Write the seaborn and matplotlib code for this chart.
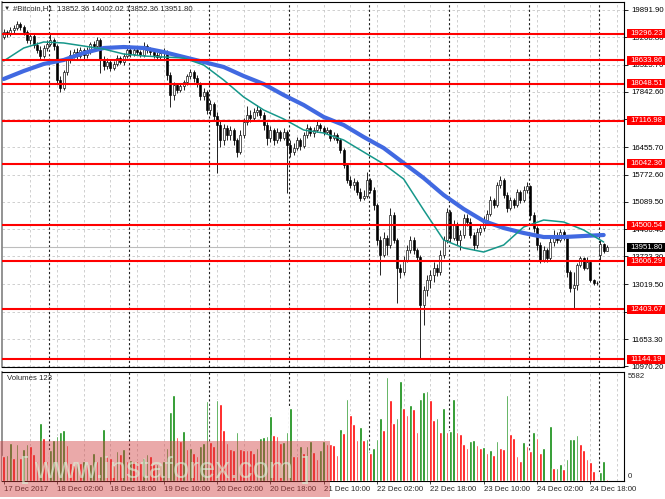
import numpy as np
import pandas as pd
import matplotlib
matplotlib.use("Agg")
import matplotlib.pyplot as plt
import matplotlib.transforms as mtransforms
from matplotlib.patches import Rectangle
import seaborn as sns

# Bitcoin H1 bars, one per hour starting 17 Dec 2017 10:00
first_open = 19216
closes = [
    19341, 19291, 19391, 19441, 19541, 19466, 19341, 19140, 19241, 19015,
    18890, 18740, 18940, 19040, 19140, 18990, 18139, 17938, 18339, 18640,
    18765, 18840, 18740, 18890, 18765, 18840, 19040, 18990, 19140, 18640,
    18489, 18589, 18439, 18539, 18690, 18589, 18740, 18890, 18790, 18890,
    18840, 18765, 18990, 18890, 18840, 18765, 18715, 18815, 18840, 18264,
    17763, 18014, 17888, 17989, 18089, 18239, 18339, 18189, 18039, 17738,
    17838, 17388, 17538, 17237, 17012, 16636, 16937, 16762, 16887, 16636,
    16336, 16762, 17087, 17262, 17187, 17338, 17388, 17262, 17012, 16686,
    16887, 16636, 16837, 16686, 16837, 16511, 16336, 16436, 16636, 16486,
    16762, 16937, 16812, 16887, 17012, 16937, 16837, 16887, 16686, 16762,
    16636, 16386, 16010, 15635, 15509, 15585, 15334, 15184, 15234, 15635,
    15384, 15009, 14132, 13757, 14182, 14007, 14758, 14132, 13431, 13331,
    13632, 13882, 14132, 13882, 13707, 12505, 12880, 13131, 13256, 13431,
    13331, 13757, 14132, 14833, 14182, 14508, 14132, 14258, 14683, 14583,
    14258, 14007, 14333, 14433, 14633, 14783, 15134, 15009, 15509, 15635,
    15259, 14934, 15134, 15009, 15334, 15134, 15384, 15484, 14758, 14433,
    14007, 13632, 13882, 13682, 14082, 14258, 14132, 14333, 14182, 13331,
    12930, 13005, 13506, 13682, 13431, 13581, 13131, 13056, 13056, 14032,
    13852.36, 13951.80,
]
highs = [
    19416, 19391, 19466, 19516, 19616, 19591, 19516, 19391, 19316, 19291,
    19090, 18990, 19015, 19140, 19316, 19190, 19040, 18239, 18389, 18715,
    18890, 18915, 18940, 18965, 18940, 18965, 19090, 19115, 19216, 19190,
    18740, 18690, 18640, 18615, 18765, 18740, 18815, 18990, 18940, 18940,
    18940, 18890, 19090, 19040, 18965, 18890, 18840, 18890, 18940, 18890,
    18339, 18089, 18064, 18039, 18139, 18289, 18414, 18389, 18264, 18089,
    17938, 17888, 17638, 17588, 17338, 17137, 17037, 17012, 16987, 16937,
    16686, 16887, 17187, 17488, 17388, 17438, 17513, 17438, 17338, 17087,
    16987, 16937, 16937, 16887, 16937, 16887, 16636, 16561, 16712, 16686,
    16837, 17037, 16987, 16962, 17137, 17062, 16987, 16962, 16912, 16837,
    16812, 16686, 16436, 16060, 15735, 15685, 15635, 15434, 15384, 15835,
    15685, 15459, 15059, 14233, 14333, 14258, 14934, 14833, 14182, 13531,
    13732, 14007, 14233, 14207, 13932, 13757, 12980, 13256, 13381, 13581,
    13531, 13882, 14233, 14934, 14884, 14633, 14583, 14383, 14783, 14783,
    14683, 14333, 14433, 14533, 14733, 14884, 15234, 15184, 15585, 15735,
    15685, 15334, 15209, 15184, 15409, 15384, 15484, 15585, 15509, 14833,
    14483, 14082, 13982, 13932, 14182, 14383, 14333, 14408, 14383, 14233,
    13381, 13331, 13556, 13732, 13707, 13707, 13632, 13156, 13106, 14132,
    14057, 14002.02,
]
lows = [
    19165, 19216, 19241, 19316, 19391, 19391, 19266, 19065, 19040, 18940,
    18815, 18665, 18690, 18865, 18990, 18890, 18039, 17838, 17888, 18264,
    18564, 18690, 18665, 18690, 18665, 18690, 18790, 18890, 18940, 18314,
    18389, 18414, 18364, 18389, 18489, 18539, 18514, 18690, 18715, 18740,
    18765, 18715, 18715, 18815, 18765, 18690, 18640, 18665, 18640, 18139,
    17463, 17638, 17813, 17838, 17888, 18014, 18164, 18089, 17963, 17638,
    17638, 17287, 17262, 17137, 15810, 16461, 16511, 16636, 16636, 16511,
    16211, 16286, 16686, 17012, 17087, 17137, 17237, 17187, 16887, 16511,
    16586, 16511, 16561, 16611, 16636, 15309, 16211, 16261, 16386, 16386,
    16436, 16686, 16737, 16712, 16837, 16862, 16762, 16787, 16611, 16636,
    16561, 16311, 15935, 15559, 15434, 15384, 15259, 15109, 15134, 15184,
    15309, 14884, 14007, 13256, 13707, 13757, 13932, 14057, 12555, 13181,
    13256, 13581, 13807, 13782, 13632, 11144.19, 12004, 12730, 12930, 13081,
    13231, 13256, 13682, 14057, 14082, 14132, 14007, 13882, 14182, 14483,
    14182, 13882, 13932, 14258, 14358, 14558, 14733, 14934, 14959, 15434,
    15184, 14833, 14884, 14934, 14959, 15059, 15084, 15309, 14633, 14333,
    13882, 13556, 13581, 13581, 13632, 13982, 14057, 14082, 14132, 13206,
    12830, 12410, 12880, 13456, 13381, 13406, 13081, 13005, 13005, 13632,
    13807, 13852.36,
]
# bars whose open differs from the previous close
gap_opens = {179: 13757}

volumes = [
    1340, 1380, 2060, 1220, 1970, 1250, 1700, 1970, 1880, 1430,
    1070, 3130, 2290, 1070, 1650, 2200, 2420, 2650, 2720, 1930,
    980, 860, 980, 970, 1070, 890, 900, 1520, 1070, 1340,
    2770, 1340, 1250, 860, 1610, 1430, 1700, 1070, 1110, 1100,
    1070, 980, 1220, 1430, 1340, 890, 900, 880, 1070, 1760,
    3720, 4600, 2360, 2150, 2690, 1700, 1760, 1520, 1340, 1880,
    2060, 4300, 2100, 1880, 4330, 4150, 2720, 2060, 1700, 1690,
    2650, 1700, 1690, 1680, 1670, 1520, 1790, 2290, 2360, 2400,
    3490, 2470, 2420, 2060, 2100, 2650, 3940, 1340, 1330, 1880,
    1520, 1880, 2150, 1580, 1160, 1650, 2150, 1970, 1960,
    1950, 1420, 2770, 2600, 4390, 3550, 3040, 2190, 2900, 2190,
    2240, 1520, 1790, 2240, 3370, 2720, 5582, 4330, 3130, 3400,
    5370, 3940, 3550, 4080, 3850, 2650, 4390, 4780, 4840, 4330,
    3260, 3400, 2650, 3900, 2630, 2660, 4390, 2630, 2510, 1970,
    1760, 2150, 2190, 1930, 1790, 1800, 1520, 1650, 1400, 2150,
    1760, 1700, 4620, 2510, 2290, 1360, 1060, 2100, 1860, 1590,
    2630, 2290, 1520, 1760, 30, 2970, 690, 720, 900, 630,
    1180, 2240, 2250, 2470, 2000, 1650, 1170, 1040, 540, 20,
    470, 1100, 123,
]

# moving averages
ma_step = 6
ma_fast = [
    18615, 18940, 19091, 19066, 18990, 18915, 18790, 18740, 18715, 18690,
    18515, 18139, 17713, 17388, 17163, 16887, 16812, 16637, 16336, 16036,
    15660, 14884, 14132, 13932, 13832, 14007, 14458, 14633, 14583, 14383,
    14082,
]
ma_slow = [
    18164, 18364, 18540, 18640, 18815, 18940, 18965, 18940, 18840, 18715,
    18590, 18465, 18239, 18039, 17763, 17513, 17213, 17012, 16712, 16436,
    16060, 15685, 15259, 14909, 14608, 14433, 14308, 14207, 14207, 14233,
    14258,
]

levels = [19296.23, 18633.86, 18048.51, 17116.98, 16042.36,
          14500.54, 13606.29, 12403.67, 11144.19]
price_ticks = [19891.90, 19208.80, 18525.70, 17842.60, 17159.50, 16455.70,
               15772.60, 15089.50, 14406.40, 13723.30, 13019.50, 12336.40,
               11653.30, 10970.20]
time_labels = ["17 Dec 2017", "18 Dec 02:00", "18 Dec 18:00", "19 Dec 10:00",
               "20 Dec 02:00", "20 Dec 18:00", "21 Dec 10:00", "22 Dec 02:00",
               "22 Dec 18:00", "23 Dec 10:00", "24 Dec 02:00", "24 Dec 18:00"]
time_label_bars = [0, 16, 32, 48, 64, 80, 96, 112, 128, 144, 160, 176]
day_breaks = [14, 38, 62, 86, 110, 134, 158, 179]
last_price = 13951.80
vol_max = 5582

sns.set_style("white")
plt.rcParams["font.family"] = ["Liberation Sans", "DejaVu Sans"]

n = len(closes)
opens = [first_open] + closes[:-1]
for bar, value in gap_opens.items():
    opens[bar] = value

df = pd.DataFrame({"open": opens, "high": highs, "low": lows,
                   "close": closes, "volume": volumes})
df["bar"] = np.arange(n)
df["bull"] = df["close"] >= df["open"]
df["vol_up"] = df["volume"].diff().fillna(-1) > 0

W, H = 665, 499


def px_box(left, top, right, bottom):
    return [left / W, 1 - bottom / H, (right - left) / W, (bottom - top) / H]


fig = plt.figure(figsize=(W / 100, H / 100), dpi=100)
ax = fig.add_axes(px_box(2, 2, 624, 367))
axv = fig.add_axes(px_box(2, 372, 624, 481))

ylo, yhi = 10952.6, 20092.2
grid_kw = dict(color="#c8c8c8", lw=0.6, ls=(0, (3, 3)), zorder=0)
sep_kw = dict(color="#222222", lw=0.8, ls=(0, (2, 2)), zorder=1)

for a in (ax, axv):
    for b in range(8, n + 5, 8):
        a.axvline(b, **grid_kw)
    for d in day_breaks:
        a.axvline(d - 0.4, **sep_kw)

for p in price_ticks:
    ax.axhline(p, **grid_kw)
ax.axhline(last_price, color="#bdbdbd", lw=0.8, zorder=1)

# candles
body_lo = df[["open", "close"]].min(axis=1)
body_h = (df["close"] - df["open"]).abs()
ax.vlines(df["bar"], df["low"], df["high"], color="black", lw=0.6, zorder=3)
ax.bar(df["bar"], body_h, bottom=body_lo, width=0.65,
       color=np.where(df["bull"], "white", "black"),
       edgecolor="black", linewidth=0.45, zorder=4)

# moving averages
ma_bars = np.arange(len(ma_slow)) * ma_step
sns.lineplot(x=ma_bars, y=ma_slow, ax=ax, color="#4169e1", lw=3.0, zorder=5)
sns.lineplot(x=ma_bars, y=ma_fast, ax=ax, color="#16978a", lw=1.1, zorder=6)

for lv in levels:
    ax.axhline(lv, color="#ff0000", lw=1.5, zorder=7)

ax.set_xlim(-0.5, 186.1)
ax.set_ylim(ylo, yhi)
ax.yaxis.tick_right()
ax.set_yticks(price_ticks)
ax.set_yticklabels([f"{p:.2f}" for p in price_ticks])
ax.tick_params(axis="y", length=3, width=0.6, pad=2, labelsize=5.6,
               colors="black", right=True, left=False)
ax.set_xticks([])
ax.set_xlabel("")
ax.set_ylabel("")

# price labels on the scale
lab_tr = mtransforms.blended_transform_factory(fig.transFigure, ax.transData)
box_h = 9 * (yhi - ylo) / 365
for lv, fc in [(l, "#ff0000") for l in levels] + [(last_price, "black")]:
    ax.add_patch(Rectangle((627 / W, lv - box_h / 2), 38 / W, box_h,
                           transform=lab_tr, fc=fc, ec="none",
                           clip_on=False, zorder=20))
    ax.text(630 / W, lv, f"{lv:.2f}", transform=lab_tr, color="white",
            fontsize=5.6, va="center", ha="left", zorder=21, clip_on=False)
ax.set_ylim(ylo, yhi)

# volumes
axv.bar(df["bar"], df["volume"], width=0.72,
        color=np.where(df["vol_up"], "#0a8a0a", "#ff0000"), zorder=3)
axv.set_xlim(-0.5, 186.1)
axv.set_ylim(0, 5850)
axv.set_yticks([])
axv.set_ylabel("")
axv.set_xticks(time_label_bars)
axv.set_xticklabels(time_labels, ha="left", fontsize=5.6)
axv.tick_params(axis="x", length=2, width=0.6, pad=1.5, bottom=True)
fig.text(628 / W, 1 - 377 / H, f"{vol_max}", fontsize=5.6, va="center")
fig.text(628 / W, 1 - 477 / H, "0", fontsize=5.6, va="center")
fig.text(7 / W, 1 - 378 / H, f"Volumes {volumes[-1]}", fontsize=5.6, va="center")

for a in (ax, axv):
    for side in ("top", "bottom", "right"):
        a.spines[side].set_color("black")
        a.spines[side].set_linewidth(0.8)
    a.spines["left"].set_color("#808080")
    a.spines["left"].set_linewidth(1.2)

# header
fig.text(4 / W, 1 - 8.5 / H, "\u25bc", fontsize=4.5, va="center")
fig.text(13 / W, 1 - 8.5 / H,
         "#Bitcoin,H1  13852.36 14002.02 13852.36 13951.80",
         fontsize=5.6, va="center")

# watermark band
fig.patches.append(Rectangle((0, 1 - 497 / H), 330 / W, 56 / H,
                             transform=fig.transFigure, fc=(0.82, 0.25, 0.25),
                             alpha=0.45, ec="none", zorder=5))
wm_kw = dict(fontsize=21, color="#d8f5d8", alpha=0.62, va="baseline", zorder=6)
fig.text(163 / W, 1 - 478 / H, "www.instaforex.com", ha="center", **wm_kw)
fig.text(20 / W, 1 - 478 / H, "[", ha="left", **wm_kw)
fig.text(310 / W, 1 - 478 / H, "]", ha="right", **wm_kw)

fig.savefig("out.png", dpi=100)
